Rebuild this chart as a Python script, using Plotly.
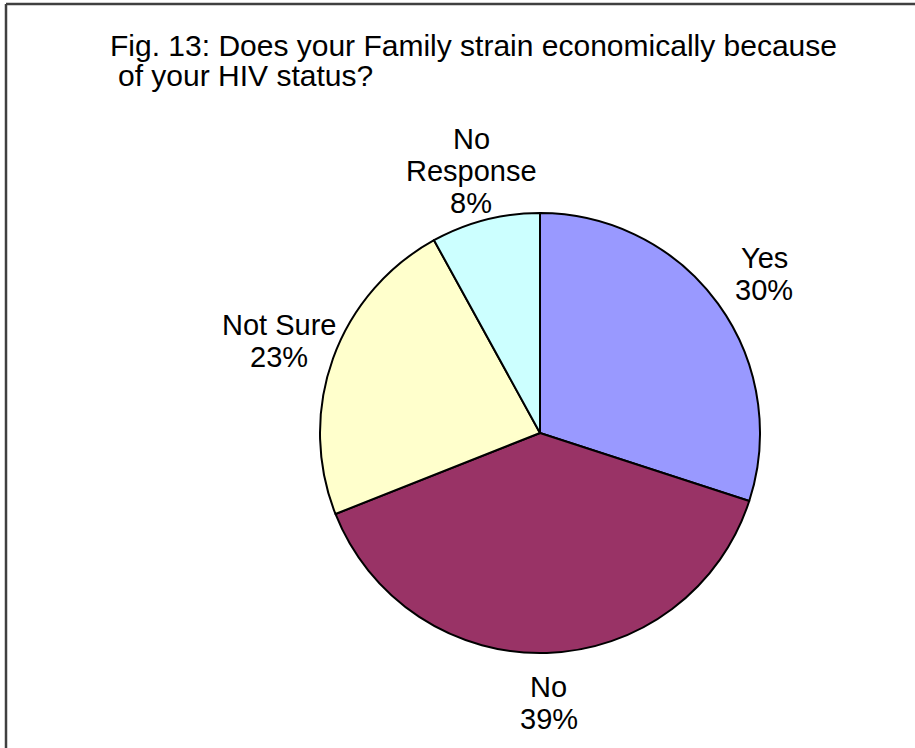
import math
import plotly.graph_objects as go

# Survey answers (percent of respondents)
categories = ["Yes", "No", "Not Sure", "No Response"]
shares = [30, 39, 23, 8]
label_lines = [["Yes"], ["No"], ["Not Sure"], ["No", "Response"]]
colors = ["#9999FF", "#993366", "#FFFFCC", "#CCFFFF"]

title_lines = ["Fig. 13: Does your Family strain economically because",
               "of your HIV status?"]

W, H = 915, 748
cx, cy, r = 540, 433, 220          # pie centre and radius in pixels
font = "Liberation Sans, Arial, sans-serif"
label_size = 29
line_step = 32                     # label line spacing in pixels


def px_x(x):
    return x / W


def px_y(y):
    return 1 - y / H


fig = go.Figure(
    go.Pie(
        labels=categories,
        values=shares,
        sort=False,
        direction="clockwise",
        rotation=0,
        marker=dict(colors=colors, line=dict(color="black", width=2)),
        textinfo="none",
        hoverinfo="label+percent",
        showlegend=False,
        domain=dict(x=[px_x(cx - r), px_x(cx + r)],
                    y=[px_y(cy + r), px_y(cy - r)]),
    )
)

# Category labels placed outside each slice along its mid-angle,
# one annotation per text line so the line spacing stays compact
annotations = []
total = sum(shares)
cum = 0
for lines, val in zip(label_lines, shares):
    mid = (cum + val / 2) / total * 2 * math.pi
    cum += val
    lx = cx + 1.26 * r * math.sin(mid)
    ly = cy - 1.23 * r * math.cos(mid)
    rows = lines + [f"{round(val / total * 100)}%"]
    top = ly - (len(rows) - 1) * line_step / 2
    for i, row in enumerate(rows):
        annotations.append(dict(
            x=px_x(lx), y=px_y(top + i * line_step),
            xref="paper", yref="paper", text=row, showarrow=False,
            xanchor="center", yanchor="middle",
            font=dict(family=font, size=label_size, color="black"),
        ))

# Two-line title, left aligned
for (tx, ty), line in zip([(108, 45), (116, 76)], title_lines):
    annotations.append(dict(
        x=px_x(tx), y=px_y(ty), xref="paper", yref="paper",
        text=line, showarrow=False, xanchor="left", yanchor="middle",
        font=dict(family=font, size=30, color="black"),
    ))

# Chart-area frame (left and top edges visible)
shapes = [
    dict(type="line", xref="paper", yref="paper",
         x0=px_x(6), x1=px_x(6), y0=-0.05, y1=px_y(4),
         line=dict(color="#404040", width=2.5)),
    dict(type="line", xref="paper", yref="paper",
         x0=px_x(6), x1=1.05, y0=px_y(4), y1=px_y(4),
         line=dict(color="#404040", width=2.5)),
]

fig.update_layout(
    width=W, height=H,
    margin=dict(l=0, r=0, t=0, b=0),
    paper_bgcolor="white", plot_bgcolor="white",
    annotations=annotations, shapes=shapes,
)

fig.write_html("out.html")
